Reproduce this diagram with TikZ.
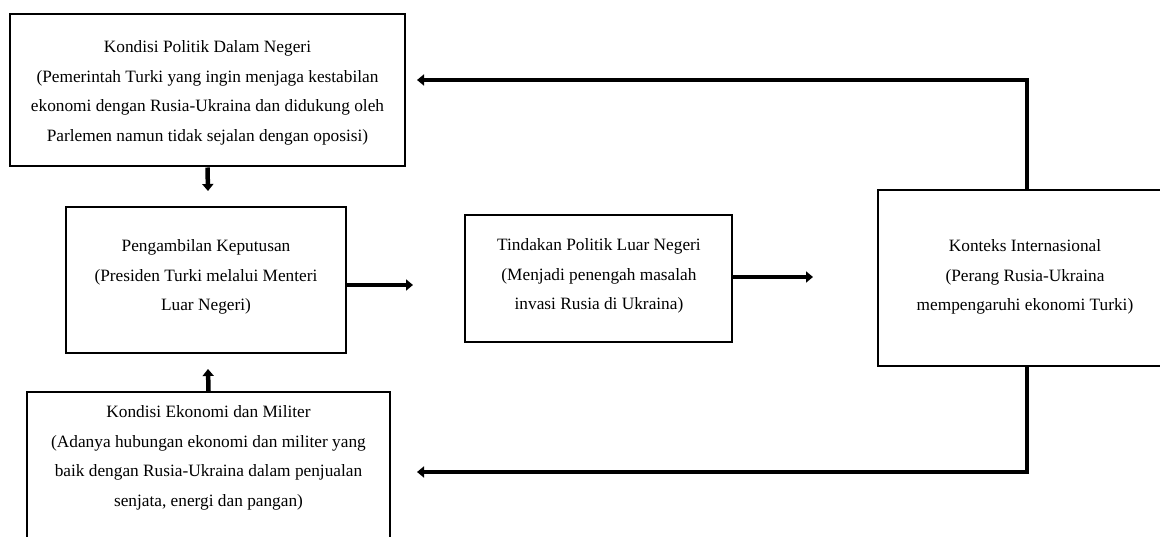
\documentclass[tikz,border=0pt]{standalone}
\usepackage{fontspec}
\setmainfont{Liberation Serif}
\usetikzlibrary{arrows.meta}
\tikzset{
  box/.style={draw=black, line width=2pt, inner sep=0pt},
  txt/.style={align=center, font=\fontsize{17.3}{29.5}\selectfont},
  arr/.style={line width=4.5pt, -{Triangle[length=7pt,width=11pt]}},
  fb/.style={line width=4pt},
}
\begin{document}
\begin{tikzpicture}[x=1pt,y=-1pt]
\useasboundingbox (0,0) rectangle (1160,537);
\clip (0,0) rectangle (1160,537);
% boxes
\node[box, minimum width=395pt, minimum height=152pt] (b1) at (207.5,90.5) {};
\node[txt] (t1) at (207.5,93) {Kondisi Politik Dalam Negeri\\(Pemerintah Turki yang ingin menjaga kestabilan\\ekonomi dengan Rusia-Ukraina dan didukung oleh\\Parlemen namun tidak sejalan dengan oposisi)};
\node[box, minimum width=280pt, minimum height=146pt] (b2) at (206,280) {};
\node[txt] (t2) at (206,277) {Pengambilan Keputusan\\(Presiden Turki melalui Menteri\\Luar Negeri)};
\node[box, minimum width=363pt, minimum height=170pt] (b3) at (208.5,477) {};
\node[txt] (t3) at (208.5,458) {Kondisi Ekonomi dan Militer\\(Adanya hubungan ekonomi dan militer yang\\baik dengan Rusia-Ukraina dalam penjualan\\senjata, energi dan pangan)};
\node[box, minimum width=267pt, minimum height=127pt] (b4) at (598.5,278.5) {};
\node[txt] (t4) at (599,276) {Tindakan Politik Luar Negeri\\(Menjadi penengah masalah\\invasi Rusia di Ukraina)};
\node[box, minimum width=300pt, minimum height=176pt] (b5) at (1028,278) {};
\node[txt] (t5) at (1025,277) {Konteks Internasional\\(Perang Rusia-Ukraina\\mempengaruhi ekonomi Turki)};
% arrow end points
\coordinate (a1) at (208,191);
\coordinate (a2) at (208,369);
\coordinate (a3) at (413,285);
\coordinate (a4) at (813,277);
\coordinate (c1) at (1027,80);
\coordinate (c2) at (1027,472);
\coordinate (e1) at (417,80);
\coordinate (e2) at (417,472);
% arrows
\draw[arr] (b1.south) -- (a1);
\draw[arr] (b3.north) -- (a2);
\draw[arr] (b2.east |- a3) -- (a3);
\draw[arr] (b4.east |- a4) -- (a4);
\draw[fb] (b5.north -| c1) -- ([yshift=-2pt]c1);
\draw[arr] ([xshift=2pt]c1) -- (e1);
\draw[fb] (b5.south -| c2) -- ([yshift=2pt]c2);
\draw[arr] ([xshift=2pt]c2) -- (e2);
\end{tikzpicture}
\end{document}
